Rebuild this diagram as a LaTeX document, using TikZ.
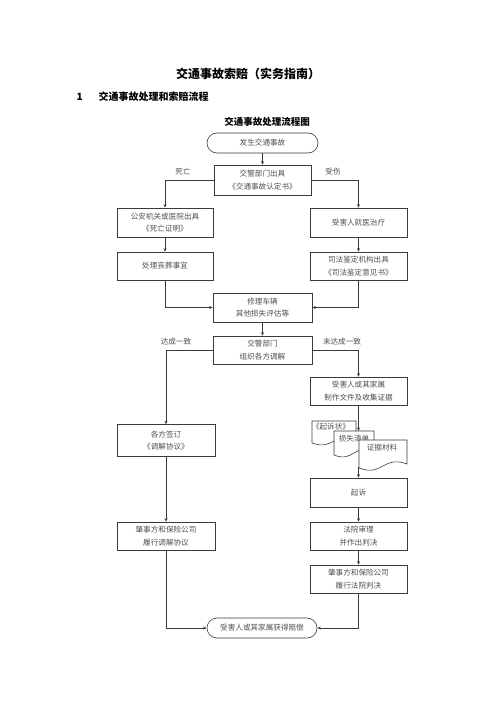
\documentclass[tikz,border=0pt]{standalone}
\usepackage{fontspec}
\setmainfont{Noto Sans CJK SC}
\usetikzlibrary{arrows.meta,positioning}
\definecolor{linecol}{HTML}{3A3A3A}
\definecolor{txtcol}{HTML}{505050}
\tikzset{
  box/.style={draw=linecol, line width=0.6pt, fill=white, minimum width=97pt, minimum height=28pt,
    inner sep=1pt, align=center, font=\fontsize{7.6}{12.5}\selectfont, text=txtcol},
  term/.style={box, rounded corners=10pt, minimum width=111pt, minimum height=20pt},
  conn/.style={draw=linecol, line width=0.6pt},
  arr/.style={conn, -{Stealth[length=3.5pt,width=3pt]}},
  lbl/.style={font=\fontsize{7.6}{9}\selectfont, text=txtcol, inner sep=0pt},
  doc/.style={draw=linecol, line width=0.6pt, fill=white},
}
\begin{document}
\begin{tikzpicture}[x=1pt,y=-1pt]
\useasboundingbox[fill=white] (0,0) rectangle (500,708);
% titles
\node[font=\fontsize{12}{14}\selectfont\bfseries] (title) at (248,74) {交通事故索赔（实务指南）};
\node[font=\fontsize{10}{12}\selectfont\bfseries, anchor=west] (secnum) at (73,97) {1};
\node[font=\fontsize{10}{12}\selectfont\bfseries, anchor=west] (sectitle) at (95,97) {交通事故处理和索赔流程};
\node[font=\fontsize{9.5}{12}\selectfont\bfseries] (charttitle) at (267,122) {交通事故处理流程图};

% nodes
\node[term] (start) at (262.5,143) {发生交通事故};
\node[box, minimum width=97pt, minimum height=30pt] (police) at (262.5,180) {交警部门出具\\《交通事故认定书》};
\node[box, minimum width=96pt, minimum height=29pt] (death) at (165,222.5) {公安机关或医院出具\\《死亡证明》};
\node[box, minimum height=29pt] (treat) at (358.5,222.5) {受害人就医治疗};
\node[box, minimum width=96pt] (funeral) at (165,266) {处理丧葬事宜};
\node[box] (judicial) at (358.5,266) {司法鉴定机构出具\\《司法鉴定意见书》};
\node[box, minimum width=99pt, minimum height=29pt] (repair) at (262.5,307.5) {修理车辆\\其他损失评估等};
\node[box, minimum width=99pt] (mediate) at (262.5,350) {交警部门\\组织各方调解};
\node[box] (evidence) at (358.5,391) {受害人或其家属\\制作文件及收集证据};
\node[box, minimum width=98pt, minimum height=32pt] (sign) at (166,440.5) {各方签订\\《调解协议》};
\node[box, minimum height=29pt] (sue) at (358.5,492.5) {起诉};
\node[box] (court) at (358.5,536) {法院审理\\并作出判决};
\node[box] (fulfillR) at (358.5,579) {肇事方和保险公司\\履行法院判决};
\node[box, minimum width=98pt] (fulfillL) at (166,536) {肇事方和保险公司\\履行调解协议};
\node[term, minimum width=110pt] (finish) at (262,628) {受害人或其家属获得赔偿};

% document stack
\draw[doc] (312,421) -- (312,443) .. controls (334,451) and (334,431) .. (356,439) -- (356,421) -- cycle;
\node[lbl] (doca) at (331,427) {《起诉状》};
\draw[doc] (334,431) -- (334,455) .. controls (354,463) and (354,443) .. (374,451) -- (374,431) -- cycle;
\node[lbl] (docb) at (354,439) {损失清单};
\draw[doc] (359,440) -- (359,468) .. controls (383,477) and (383,455) .. (407,464) -- (407,440) -- cycle;
\node[lbl] (docc) at (382,448) {证据材料};
\coordinate (docin) at (358.5,431);
\coordinate (docout) at (358.5,467);

% connectors
\draw[arr] (start) -- (police);
\draw[arr] (police.west) -| (death.north);
\draw[arr] (police.east) -| (treat.north);
\node[lbl] (lbldeath) at (183,172) {死亡};
\node[lbl] (lblinj) at (333,172) {受伤};
\draw[arr] (death) -- (funeral);
\draw[arr] (treat) -- (judicial);
\draw[arr] (funeral.south) |- (repair.west);
\draw[arr] (judicial.south) |- (repair.east);
\draw[arr] (repair) -- (mediate);
\draw[arr] (mediate.west) -| (sign.north);
\draw[arr] (mediate.east) -| (evidence.north);
\node[lbl] (lblagree) at (176,342) {达成一致};
\node[lbl] (lbldis) at (342,342) {未达成一致};
\draw[arr] (evidence.south) -- (docin);
\draw[arr] (docout) -- (sue.north);
\draw[arr] (sue) -- (court);
\draw[arr] (court) -- (fulfillR);
\draw[arr] (sign) -- (fulfillL);
\draw[arr] (fulfillL.south) |- (finish.west);
\draw[arr] (fulfillR.south) |- (finish.east);
\end{tikzpicture}
\end{document}
